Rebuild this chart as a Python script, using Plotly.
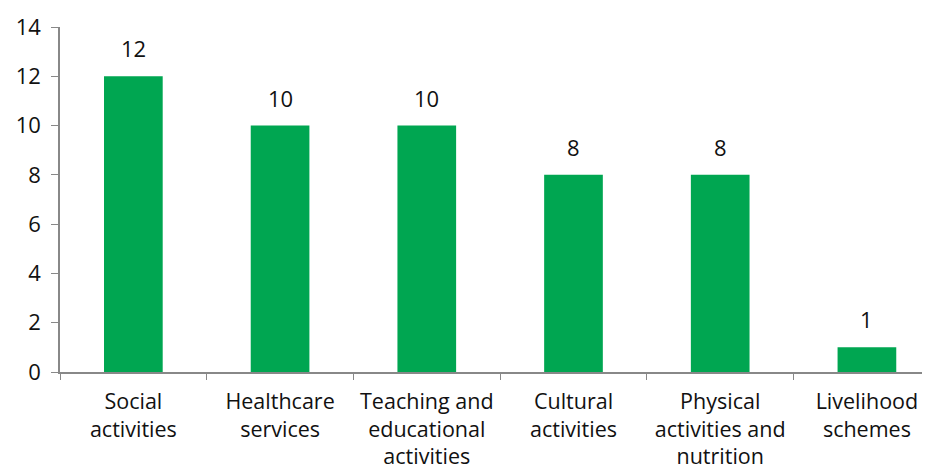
import plotly.graph_objects as go

categories = ["Social<br>activities", "Healthcare<br>services", "Teaching and<br>educational<br>activities",
              "Cultural<br>activities", "Physical<br>activities and<br>nutrition", "Livelihood<br>schemes"]
values = [12, 10, 10, 8, 8, 1]

fig = go.Figure(go.Bar(
    x=categories, y=values,
    marker=dict(color="#00A651", line=dict(width=0)),
    cliponaxis=False,
))

# value labels sit a little above each bar
for c, v in zip(categories, values):
    fig.add_annotation(x=c, y=v, text=str(v), showarrow=False, yanchor="bottom", yshift=11,
                       font=dict(size=22, color="#111111"))

# page body has an 8px margin, so the figure is a bit smaller than the window
fig.update_layout(
    width=922, height=463,
    margin=dict(l=52, r=0, t=19, b=99),
    paper_bgcolor="white", plot_bgcolor="white",
    font=dict(family="Open Sans, sans-serif", size=22, color="#111111"),
    bargap=0.6, showlegend=False,
)
fig.update_xaxes(range=[-0.5, 5.43], showline=True, linecolor="#888888", linewidth=1.5,
                 ticks="outside", tickson="boundaries", ticklen=6, tickcolor="#888888",
                 tickfont=dict(size=21.5), ticklabelstandoff=9, automargin=False)
fig.update_yaxes(range=[0, 14], dtick=2, showgrid=False, zeroline=False, showline=True,
                 linecolor="#888888", linewidth=1.5, ticks="outside", ticklen=7,
                 tickcolor="#888888", tickfont=dict(size=22), ticklabelstandoff=6,
                 automargin=False)

fig.write_html("out.html")
